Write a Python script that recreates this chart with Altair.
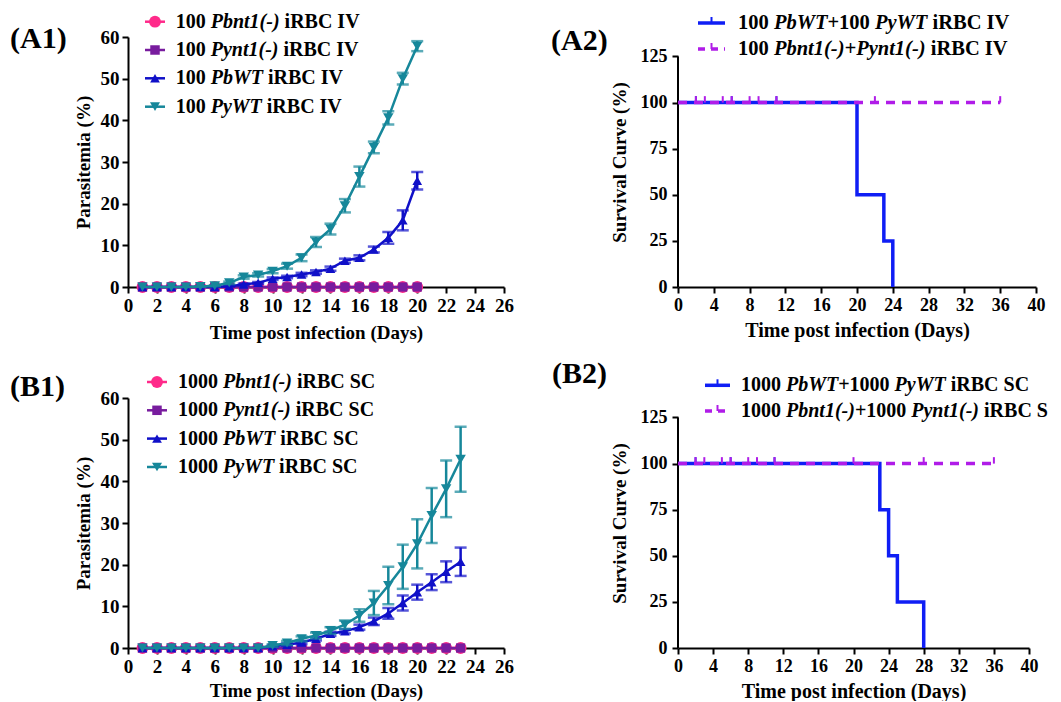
import altair as alt
import pandas as pd

FONT = "Liberation Serif"

# ---------------- data ----------------
a1_days = list(range(1, 21))
a1_pbnt1 = [0.0] * 20
a1_pynt1 = [0.0] * 20
a1_pbwt = [0, 0, 0, 0, 0, 0, 0.2, 0.6, 1.0, 2.0, 2.4, 3.0, 3.6, 4.4, 6.3, 7.0, 9.0, 11.8, 16.0, 25.5]
a1_pbwt_sem = [0, 0, 0, 0, 0, 0, 0.1, 0.2, 0.2, 0.3, 0.3, 0.4, 0.4, 0.5, 0.5, 0.6, 0.7, 1.4, 2.4, 2.1]
a1_pywt = [0, 0, 0, 0, 0.1, 0.3, 1.0, 2.4, 2.9, 3.8, 5.0, 7.0, 10.8, 13.9, 19.5, 26.5, 33.5, 40.6, 50.0, 57.8]
a1_pywt_sem = [0, 0, 0, 0, 0.05, 0.1, 0.3, 0.4, 0.4, 0.5, 0.6, 0.8, 1.2, 1.3, 1.6, 2.4, 1.4, 1.6, 1.4, 1.2]

b1_days = list(range(1, 24))
b1_pbnt1 = [0.0] * 23
b1_pynt1 = [0.0] * 23
b1_pbwt = [0] * 9 + [0.4, 0.8, 1.3, 2.2, 3.4, 4.0, 5.0, 6.4, 8.3, 10.8, 13.4, 15.8, 18.3, 20.7]
b1_pbwt_sem = [0] * 9 + [0.2, 0.3, 0.4, 0.4, 0.5, 0.5, 0.6, 0.9, 1.3, 1.8, 1.8, 1.9, 2.5, 3.4]
b1_pywt = [0] * 9 + [0.6, 1.2, 2.2, 3.0, 4.2, 5.6, 7.8, 10.8, 15.0, 19.5, 25.0, 31.8, 38.2, 45.3]
b1_pywt_sem = [0] * 9 + [0.3, 0.5, 0.6, 0.7, 0.8, 1.0, 1.5, 2.9, 4.5, 5.3, 5.9, 6.6, 6.8, 7.8]

a2_wt_days = [0, 20, 23, 24]
a2_wt_surv = [100, 50, 25, 0]
a2_wt_censor = [2, 6, 11]
a2_mut_days = [0, 36]
a2_mut_surv = [100, 100]
a2_mut_censor = [2, 3, 5, 6, 8, 9, 11, 22, 36]

b2_wt_days = [0, 23, 24, 25, 28]
b2_wt_surv = [100, 75, 50, 25, 0]
b2_wt_censor = [2, 6, 11]
b2_mut_days = [0, 36]
b2_mut_surv = [100, 100]
b2_mut_censor = [2, 3, 5, 6, 8, 9, 11, 20, 28, 36]

# ---------------- styles ----------------
PINK = "#FF2A8A"
PURPLE = "#781C9E"
DBLUE = "#1010C8"
TEAL = "#16879A"
BLUE = "#0F1EF5"
MAGENTA = "#B01CE8"

BOLD = {' ': .25, 'i': .278, 'R': .722, 'B': .667, 'C': .722, 'I': .389, 'V': .722,
        'S': .556, '+': .570}
BOLDIT = {' ': .25, 'P': .611, 'b': .5, 'n': .556, 't': .278, '(': .333, '-': .333,
          ')': .333, 'y': .444, 'W': .889, 'T': .611, '+': .570}

DUMMY = pd.DataFrame({"d": [0]})
COL2_X = 678      # page x of the right-column plot origin
RIGHT_EDGE = 1052  # last page x a text may reach without widening the page


def seg_w(s, italic, fs):
    tab = BOLDIT if italic else BOLD
    return sum(tab.get(c, 0.5) for c in s) * fs


def txt(x, y, s, fs, italic=False, align="left", limit=None):
    kw = dict(align=align, baseline="middle", font=FONT, fontSize=fs, fontWeight="bold",
              fontStyle="italic" if italic else "normal", color="black")
    if limit:
        kw["limit"] = limit
        kw["ellipsis"] = "\u200b"
    return alt.Chart(DUMMY).mark_text(**kw).encode(
        x=alt.value(x), y=alt.value(y), text=alt.value(s.strip()))


def rich(x0, y, segments, fs, max_x=None):
    out = []
    x = x0
    for s, it in segments:
        lead = len(s) - len(s.lstrip())
        xs = x + seg_w(s[:lead], it, fs)
        if s.strip():
            lim = None
            if max_x is not None and xs + seg_w(s.strip(), it, fs) > max_x:
                lim = max_x - xs
            out.append(txt(xs, y, s, fs, it, limit=lim))
        x += seg_w(s, it, fs)
    return out


def hrule(x1, x2, y, color, width, dash=None):
    kw = dict(color=color, strokeWidth=width)
    if dash:
        kw["strokeDash"] = dash
    return alt.Chart(DUMMY).mark_rule(**kw).encode(
        x=alt.value(x1), x2=alt.value(x2), y=alt.value(y))


def vrule(x, y1, y2, color, width):
    return alt.Chart(DUMMY).mark_rule(color=color, strokeWidth=width).encode(
        x=alt.value(x), y=alt.value(y1), y2=alt.value(y2))


def sym(x, y, shape, color, size):
    return alt.Chart(DUMMY).mark_point(
        shape=shape, filled=True, size=size, color=color, opacity=1
    ).encode(x=alt.value(x), y=alt.value(y))


# ---------------- parasitemia panels ----------------
def para_panel(days, series, label, label_xy, rows, geom, prefix, route, title_pad):
    W, H = 376, 250
    xax = alt.Axis(values=list(range(0, 27, 2)), title="Time post infection (Days)",
                   labelFontSize=19, titleFontSize=19, titlePadding=title_pad,
                   labelFlush=False, labelOverlap=False)
    yax = alt.Axis(values=list(range(0, 61, 10)), title="Parasitemia (%)",
                   labelFontSize=19, titleFontSize=19, titlePadding=7,
                   labelFlush=False, labelOverlap=False)
    xs = alt.Scale(domain=[0, 26], nice=False)
    ys = alt.Scale(domain=[0, 60], nice=False)

    def X():
        return alt.X("day:Q", scale=xs, axis=xax)

    def Y(f):
        return alt.Y(f + ":Q", scale=ys, axis=yax)

    layers = []
    for s in series:
        df = pd.DataFrame({"day": days, "val": s["mean"], "err": s["err"]})
        df["lo"] = df["val"] - df["err"]
        df["hi"] = df["val"] + df["err"]
        layers.append(alt.Chart(df).mark_line(color=s["color"], strokeWidth=2.5)
                      .encode(x=X(), y=Y("val")))
        de = df[df["err"] > 0]
        if len(de):
            layers.append(alt.Chart(de).mark_rule(color=s["color"], strokeWidth=2.5)
                          .encode(x=X(), y=Y("lo"), y2="hi:Q"))
            for f in ("lo", "hi"):
                layers.append(alt.Chart(de).mark_tick(orient="horizontal", size=12,
                                                      thickness=2.5, color=s["color"])
                              .encode(x=X(), y=Y(f)))
        layers.append(alt.Chart(df).mark_point(shape=s["shape"], filled=True,
                                               size=s["size"], color=s["color"], opacity=1)
                      .encode(x=X(), y=Y("val")))

    # legend
    lx1, lx2, sx, tx, ys_rows = geom
    for s, (name, suffix), ry in zip(series, rows, ys_rows):
        layers.append(hrule(lx1, lx2, ry, s["color"], 2.5))
        layers.append(sym(sx, ry, s["shape"], s["color"], s["lsize"]))
        layers += rich(tx, ry, [(prefix + " ", False), (name, True), (" " + route, False)], 20)
    layers.append(txt(label_xy[0], label_xy[1], label, 30))
    return alt.layer(*layers).properties(width=W, height=H)


def para_series(pbnt, pynt, pbwt, pbwt_e, pywt, pywt_e):
    return [
        dict(mean=pbnt, err=[0] * len(pbnt), color=PINK, shape="circle", size=140, lsize=140),
        dict(mean=pynt, err=[0] * len(pynt), color=PURPLE, shape="square", size=85, lsize=90),
        dict(mean=pbwt, err=pbwt_e, color=DBLUE, shape="triangle-up", size=95, lsize=95),
        dict(mean=pywt, err=pywt_e, color=TEAL, shape="triangle-down", size=110, lsize=100),
    ]


names = [("Pbnt1(-)", None), ("Pynt1(-)", None), ("PbWT", None), ("PyWT", None)]

A1 = para_panel(a1_days,
                para_series(a1_pbnt1, a1_pynt1, a1_pbwt, a1_pbwt_sem, a1_pywt, a1_pywt_sem),
                "(A1)", (-118, 2), names,
                (17, 37, 27, 47.7, [-15.3, 13, 41.3, 69.7]), "100", "iRBC IV", 8)
B1 = para_panel(b1_days,
                para_series(b1_pbnt1, b1_pynt1, b1_pbwt, b1_pbwt_sem, b1_pywt, b1_pywt_sem),
                "(B1)", (-118, -10.7), names,
                (19, 39, 29, 50, [-16, 12.3, 40.6, 69]), "1000", "iRBC SC", 5)


# ---------------- survival panels ----------------
def surv_panel(W, wt_days, wt_surv, wt_cens, mut_days, mut_surv, mut_cens,
               label, label_xy, legend_rows, geom, leg_fs):
    H = 250
    ytop = 250 / 230.5 * 125
    xax = alt.Axis(values=list(range(0, 41, 4)), title="Time post infection (Days)",
                   labelFontSize=18, titleFontSize=20, titlePadding=6,
                   labelFlush=False, labelOverlap=False)
    yax = alt.Axis(values=[0, 25, 50, 75, 100, 125], title="Survival Curve (%)",
                   labelFontSize=18, titleFontSize=19, titlePadding=11, labelPadding=5,
                   domain=False, labelFlush=False, labelOverlap=False)
    xs = alt.Scale(domain=[0, 40], nice=False)
    ys = alt.Scale(domain=[0, ytop], nice=False)

    def X():
        return alt.X("day:Q", scale=xs, axis=xax)

    def Y(f):
        return alt.Y(f + ":Q", scale=ys, axis=yax)

    layers = []
    yaxis_df = pd.DataFrame({"day": [0], "val": [0], "hi": [125]})
    layers.append(alt.Chart(yaxis_df).mark_rule(color="black", strokeWidth=2)
                  .encode(x=X(), y=Y("val"), y2="hi:Q"))
    wt = pd.DataFrame({"day": wt_days, "val": wt_surv})
    layers.append(alt.Chart(wt).mark_line(color=BLUE, strokeWidth=3.5, interpolate="step-after")
                  .encode(x=X(), y=Y("val")))
    wc = pd.DataFrame({"day": wt_cens, "val": [100] * len(wt_cens)})
    wc["hi"] = wc["val"] + 3.5
    layers.append(alt.Chart(wc).mark_rule(color=BLUE, strokeWidth=2)
                  .encode(x=X(), y=Y("val"), y2="hi:Q"))
    mt = pd.DataFrame({"day": mut_days, "val": mut_surv})
    layers.append(alt.Chart(mt).mark_line(color=MAGENTA, strokeWidth=3.5,
                                          strokeDash=[9, 7], interpolate="step-after")
                  .encode(x=X(), y=Y("val")))
    mc = pd.DataFrame({"day": mut_cens, "val": [100] * len(mut_cens)})
    mc["hi"] = mc["val"] + 3.5
    layers.append(alt.Chart(mc).mark_rule(color=MAGENTA, strokeWidth=2)
                  .encode(x=X(), y=Y("val"), y2="hi:Q"))

    lx1, lx2, tx, rys = geom
    layers.append(hrule(lx1, lx2, rys[0], BLUE, 3.5))
    layers.append(vrule((lx1 + lx2) / 2, rys[0] - 6, rys[0], BLUE, 2))
    layers.append(hrule(lx1, lx2, rys[1], MAGENTA, 3.5, dash=[7, 6]))
    layers.append(vrule((lx1 + lx2) / 2, rys[1] - 6, rys[1], MAGENTA, 2))
    for segs, ry in zip(legend_rows, rys):
        layers += rich(tx, ry, segs, leg_fs, max_x=RIGHT_EDGE - COL2_X)
    layers.append(txt(label_xy[0], label_xy[1], label, 30))
    return alt.layer(*layers).properties(width=W, height=H)


a2_rows = [
    [("100 ", False), ("PbWT", True), ("+100 ", False), ("PyWT", True), (" iRBC IV", False)],
    [("100 ", False), ("Pbnt1(-)+Pynt1(-)", True), (" iRBC IV", False)],
]
b2_rows = [
    [("1000 ", False), ("PbWT", True), ("+1000 ", False), ("PyWT", True), (" iRBC SC", False)],
    [("1000 ", False), ("Pbnt1(-)", True), ("+1000 ", False), ("Pynt1(-)", True),
     (" iRBC SC", False)],
]

A2 = surv_panel(358, a2_wt_days, a2_wt_surv, a2_wt_censor, a2_mut_days, a2_mut_surv,
                a2_mut_censor, "(A2)", (-127, 4), a2_rows, (20, 47, 60, [-14, 12]), 20.5)
B2 = surv_panel(351, b2_wt_days, b2_wt_surv, b2_wt_censor, b2_mut_days, b2_mut_surv,
                b2_mut_censor, "(B2)", (-126, -24), b2_rows, (27, 52, 63, [-12.7, 13]), 20)

chart = alt.concat(
    A1, A2, B1, B2, columns=2, bounds="flush",
    spacing={"row": 111, "column": 174}
).properties(
    padding={"left": 2, "top": 3, "right": 0, "bottom": 0}
).configure_view(stroke=None).configure_axis(
    grid=False, domainColor="black", domainWidth=2, tickColor="black", tickWidth=2,
    tickSize=6, labelFont=FONT, labelFontWeight="bold", labelColor="black",
    titleFont=FONT, titleFontWeight="bold", titleColor="black", labelPadding=3
)

chart.save("out.html", embed_options={"renderer": "svg", "actions": False})
